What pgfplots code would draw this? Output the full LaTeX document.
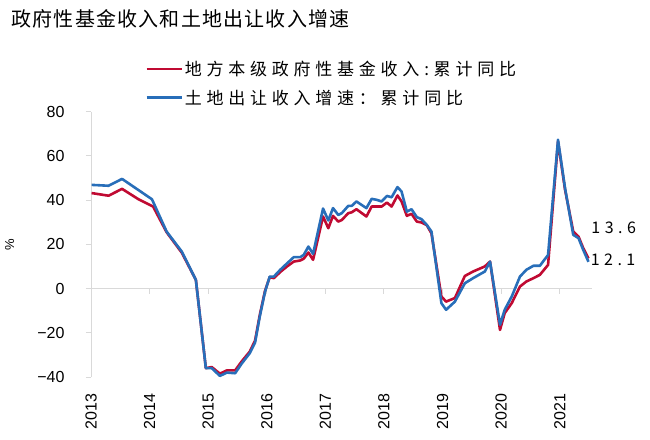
\documentclass[border=0pt]{standalone}
\usepackage{fontspec}
\setmainfont{Liberation Sans}
\newfontfamily\cjk{Noto Sans CJK SC}
\newfontfamily\cjkwide{Noto Sans CJK SC}[LetterSpace=28]
\newfontfamily\cjktitle{Noto Sans CJK SC}[LetterSpace=6]
\usepackage{pgfplots}
\pgfplotsset{compat=1.18}
\definecolor{cred}{RGB}{192,10,50}
\definecolor{cblue}{RGB}{40,110,185}
\definecolor{axgray}{RGB}{217,217,217}
\begin{document}
\begin{tikzpicture}
\useasboundingbox (0,0) rectangle (650pt,439pt);
\node[anchor=west,font=\cjktitle\fontsize{20}{24}\selectfont] at (8pt,420pt) {政府性基金收入和土地出让收入增速};
\begin{axis}[
    at={(91pt,62pt)}, anchor=south west,
    scale only axis,
    width=501pt, height=265.3pt,
    xmin=0, xmax=8.55,
    ymin=-40, ymax=80,
    ytick={-40,-20,0,20,40,60,80},
    yticklabels={−40,−20,0,20,40,60,80},
    xtick={0,1,2,3,4,5,6,7,8},
    xticklabels={2013,2014,2015,2016,2017,2018,2019,2020,2021},
    xticklabel style={rotate=90, anchor=east, font=\fontsize{16}{18}\selectfont, xshift=-8pt},
    yticklabel style={font=\fontsize{16}{18}\selectfont, xshift=-18pt},
    axis x line*=bottom,
    x axis line style={draw=none},
    xtick style={draw=none},
    axis y line*=left,
    y axis line style={draw=axgray, line width=1pt, -},
    ytick style={draw=axgray, line width=1pt},
    tick align=outside,
    major tick length=5pt,
    ylabel={\%},
    ylabel style={font=\fontsize{13}{15}\selectfont, at={(axis description cs:-0.146,0.5)}},
    legend style={at={(axis description cs:0.108,1.20)}, anchor=north west, draw=none, fill=none,
        font=\cjkwide\fontsize{17}{20}\selectfont, row sep=9pt, inner sep=0pt},
    legend cell align=left,
    legend image code/.code={\draw[#1, line width=2.6pt] (0pt,0pt) -- (35pt,0pt);},
    clip=false,
]
\draw[axgray, line width=1pt] (axis cs:0,0) -- (axis cs:8.55,0);
\pgfplotsinvokeforeach{1,2,3,4,5,6,7,8}{
  \draw[axgray, line width=1pt] (axis cs:#1,0) -- (axis cs:#1,-2.3);
}
\addplot[cred, line width=2.6pt, line join=round] table[x expr=\thisrowno{0}-2013, y index=1] {
2013.01 43.2
2013.30 42.0
2013.53 45.1
2013.81 40.4
2014.06 37.1
2014.29 25.5
2014.55 16.2
2014.79 3.9
2014.96 -36
2015.06 -35.5
2015.20 -38.5
2015.32 -37
2015.46 -37
2015.57 -33
2015.71 -28.5
2015.80 -23.5
2015.88 -12
2015.97 -1
2016.05 5.2
2016.12 4.7
2016.23 7.5
2016.35 10.1
2016.46 12.2
2016.57 12.7
2016.63 13.5
2016.71 16.3
2016.79 13
2016.96 32.6
2017.05 27.3
2017.13 32.9
2017.22 30.3
2017.28 31
2017.39 34.1
2017.45 34.5
2017.53 35.9
2017.70 32.6
2017.79 37.1
2017.88 37.1
2017.96 37.1
2018.05 38.9
2018.13 37.1
2018.23 42.1
2018.30 39.4
2018.39 32.9
2018.47 33.8
2018.56 30.3
2018.64 29.9
2018.73 28.7
2018.81 25
2018.98 -3.6
2019.06 -5.9
2019.21 -4.3
2019.38 5.7
2019.52 7.7
2019.72 10
2019.81 12.2
2019.98 -18.7
2020.06 -11.1
2020.18 -6.6
2020.32 0.9
2020.43 3.2
2020.55 4.7
2020.66 6.2
2020.80 10.7
2020.97 66.5
2021.09 44.7
2021.23 25.8
2021.32 23.5
2021.40 18.3
2021.49 13.6
};
\addlegendentry{地方本级政府性基金收入:累计同比}
\addplot[cblue, line width=2.6pt, line join=round] table[x expr=\thisrowno{0}-2013, y index=1] {
2013.01 46.9
2013.30 46.5
2013.53 49.6
2014.04 40.4
2014.29 25.8
2014.55 16.7
2014.79 3.9
2014.96 -36
2015.06 -36
2015.20 -39.5
2015.32 -38
2015.46 -38.3
2015.57 -34
2015.71 -29.2
2015.80 -24.4
2015.88 -12.7
2015.97 -1.4
2016.05 5.4
2016.12 5.4
2016.23 8.5
2016.35 11.5
2016.46 14.2
2016.57 14.2
2016.63 15.2
2016.71 19
2016.79 15.7
2016.96 36.2
2017.05 30.8
2017.13 36.4
2017.22 33.3
2017.28 34.1
2017.39 37.4
2017.45 37.4
2017.53 39.4
2017.70 36.4
2017.79 40.6
2017.88 40.1
2017.96 39.4
2018.05 41.9
2018.13 41.3
2018.23 45.9
2018.30 43.9
2018.39 34.8
2018.47 35.9
2018.56 32.3
2018.64 31.4
2018.73 28.8
2018.81 25.8
2018.98 -6.6
2019.06 -9.6
2019.21 -5.9
2019.38 2.4
2019.52 4.7
2019.72 7.7
2019.81 12.2
2019.98 -16.4
2020.06 -9.6
2020.18 -3.6
2020.32 5.4
2020.43 8.5
2020.55 10.3
2020.66 10.3
2020.80 15.2
2020.97 67.3
2021.09 45.4
2021.23 24.3
2021.32 22.8
2021.40 17.5
2021.49 12.1
};
\addlegendentry{土地出让收入增速：累计同比}
\node[anchor=west, font=\cjkwide\fontsize{16}{18}\selectfont] at (axis cs:8.48,27.5) {13.6};
\node[anchor=west, font=\cjkwide\fontsize{16}{18}\selectfont] at (axis cs:8.47,12.8) {12.1};
\end{axis}
\end{tikzpicture}
\end{document}
